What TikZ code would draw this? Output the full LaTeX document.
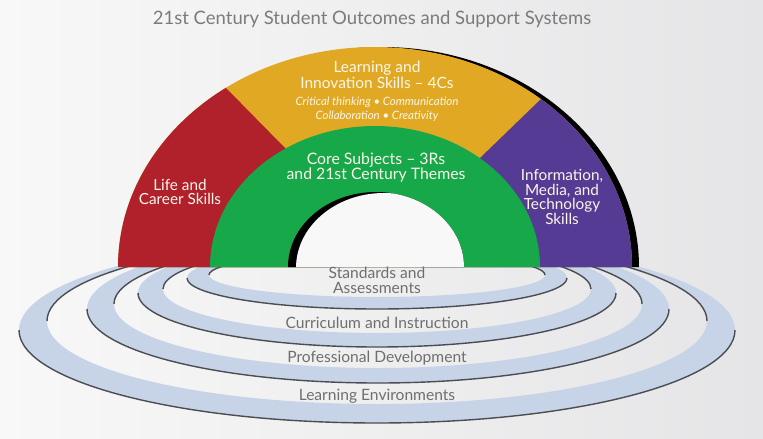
\documentclass[tikz,border=0pt]{standalone}
\usepackage{fontspec}
\setmainfont{Lato}
\definecolor{archred}{HTML}{B0212B}
\definecolor{archyellow}{HTML}{E1A923}
\definecolor{archgreen}{HTML}{16A849}
\definecolor{archpurple}{HTML}{553B93}
\definecolor{ringblue}{HTML}{C7D4E7}
\definecolor{ringline}{HTML}{4A4D52}
\definecolor{labelgray}{HTML}{6F6F6F}
\definecolor{titlegray}{HTML}{7B7B7B}
\definecolor{archtext}{HTML}{FBF6EA}
\definecolor{bgleft}{HTML}{F8F8F8}
\definecolor{bgright}{HTML}{E5E5E7}
\tikzset{
  titletext/.style={text=titlegray, font=\fontsize{18.5}{21}\selectfont, inner sep=0pt},
  headtext/.style={text=archtext, font=\fontsize{15.5}{16.5}\selectfont, align=center, inner sep=0pt},
  smalltext/.style={text=archtext, font=\itshape\fontsize{11.5}{13.5}\selectfont, align=center, inner sep=0pt},
  coretext/.style={text=archtext, font=\fontsize{15.8}{15.5}\selectfont, align=center, inner sep=0pt},
  sidetext/.style={text=archtext, font=\fontsize{15.3}{14.8}\selectfont, align=center, inner sep=0pt},
  ringtext/.style={text=labelgray, font=\fontsize{15.6}{15}\selectfont, align=center, inner sep=0pt},
  ringband/.style={fill=ringblue, even odd rule},
  ringedge/.style={draw=ringline, line width=1.4pt},
}
\begin{document}
\begin{tikzpicture}[x=1pt,y=-1pt]
\useasboundingbox (0,0) rectangle (763,439);
\shade[left color=bgleft, right color=bgright] (0,0) rectangle (763,439);

% support rings: top surface band, wall line on outer lower half and inner upper half
\fill[ringband] (377,330) ellipse[x radius=358, y radius=93] (377,321) ellipse[x radius=330, y radius=83];
\fill[ringband] (378,309) ellipse[x radius=291, y radius=74] (378,304) ellipse[x radius=264, y radius=64];
\fill[ringband] (377,293) ellipse[x radius=239, y radius=54] (377,289) ellipse[x radius=214, y radius=44];
\fill[ringband] (377,278) ellipse[x radius=190, y radius=31] (377,275) ellipse[x radius=168, y radius=22];

\path[ringedge] (735,330) arc[start angle=0, end angle=180, x radius=358, y radius=93];
\path[ringedge] (47,321) arc[start angle=180, end angle=360, x radius=330, y radius=83];
\path[ringedge] (669,309) arc[start angle=0, end angle=180, x radius=291, y radius=74];
\path[ringedge] (114,304) arc[start angle=180, end angle=360, x radius=264, y radius=64];
\path[ringedge] (616,293) arc[start angle=0, end angle=180, x radius=239, y radius=54];
\path[ringedge] (163,289) arc[start angle=180, end angle=360, x radius=214, y radius=44];
\path[ringedge] (567,278) arc[start angle=0, end angle=180, x radius=190, y radius=31];
\path[ringedge] (209,275) arc[start angle=180, end angle=360, x radius=168, y radius=22];

% arch shadow
\fill[black] (125,267) arc[start angle=180, end angle=360, x radius=257, y radius=220] -- cycle;
% yellow
\fill[archyellow] (118,267) arc[start angle=180, end angle=360, x radius=257, y radius=220] -- cycle;
\begin{scope}
  \clip (118,267) arc[start angle=180, end angle=360, x radius=257, y radius=220] -- cycle;
  \fill[archred] (108,-32) -- (344,208) -- (344,270) -- (0,270) -- (0,-32) -- cycle;
  \fill[archpurple] (660,-16) -- (420,216) -- (420,270) -- (763,270) -- (763,-16) -- cycle;
\end{scope}
% green
\fill[archgreen] (210,267) arc[start angle=180, end angle=360, x radius=165, y radius=141] -- cycle;
% hole with shadow
\fill[black] (288,267) arc[start angle=180, end angle=360, x radius=88, y radius=75] -- cycle;
\begin{scope}
  \clip (288,267) arc[start angle=180, end angle=360, x radius=88, y radius=75] -- cycle;
  \fill[bgleft] (296,268) arc[start angle=180, end angle=360, x radius=88, y radius=75] -- cycle;
\end{scope}

% texts
\node[titletext] (title) at (372,19) {21st Century Student Outcomes and Support Systems};
\node[headtext] (lis) at (377,75) {Learning and\\Innovation Skills -- 4Cs};
\node[smalltext] (fourc) at (377,109.5) {Critical thinking \textbullet\ Communication\\Collaboration \textbullet\ Creativity};
\node[coretext] (core) at (376,167.5) {Core Subjects -- 3Rs\\and 21st Century Themes};
\node[sidetext] (life) at (180,192) {Life and\\Career Skills};
\node[sidetext] (info) at (562,197) {Information,\\Media, and\\Technology\\Skills};
\node[ringtext] (sa) at (377,280.5) {Standards and\\Assessments};
\node[ringtext] (ci) at (377,323) {Curriculum and Instruction};
\node[ringtext] (pd) at (377,358) {Professional Development};
\node[ringtext] (le) at (377,396) {Learning Environments};
\end{tikzpicture}
\end{document}
